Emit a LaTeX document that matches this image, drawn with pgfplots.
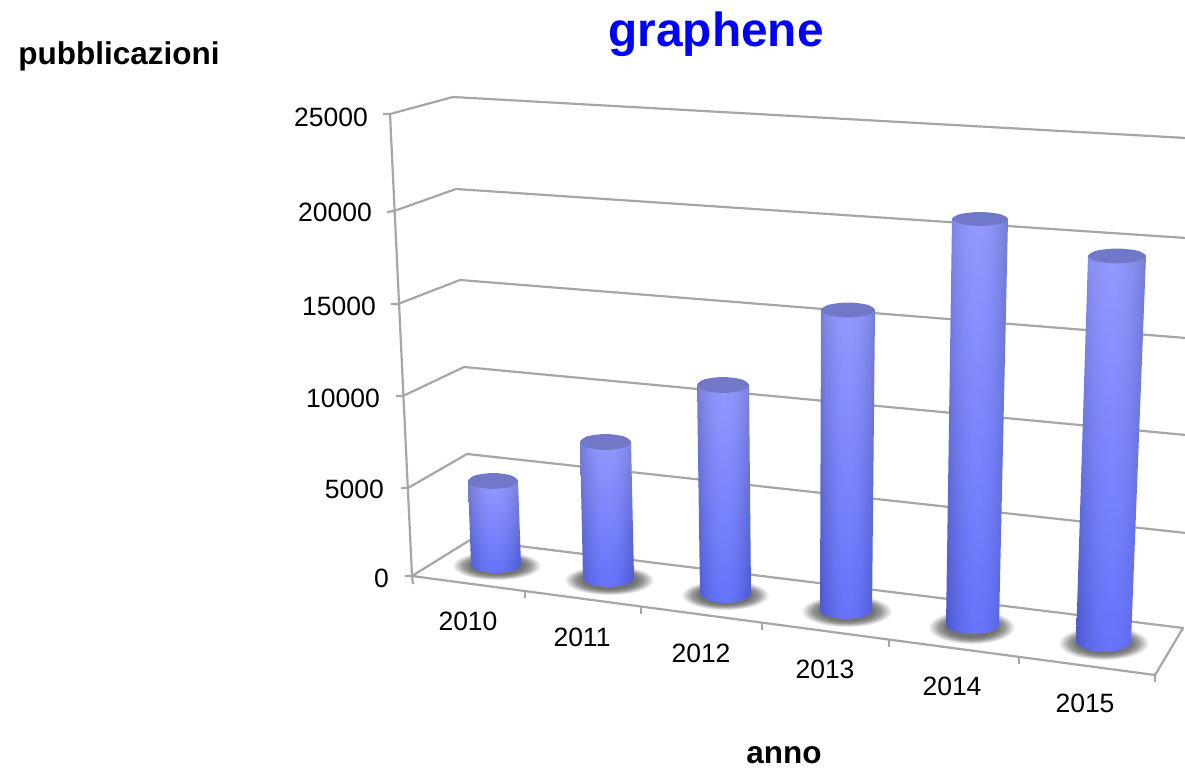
\documentclass[border=0pt]{standalone}
\usepackage{fontspec}
\setmainfont{Liberation Sans}
\usepackage{pgfplots}
\pgfplotsset{compat=1.18}

% Cylinder side: lighter towards the top, darker towards both edges.
% A path takes up the central 50bp square of the 100bp shading box.
\pgfdeclarefunctionalshading{cylbody}{\pgfpointorigin}{\pgfpoint{100bp}{100bp}}{}{
  25 sub 50 div exch 50 sub 25 div dup mul
  1 index 0.17 mul 0.40 add 1 index 0.11 mul sub
  2 index 0.15 mul 0.45 add 2 index 0.11 mul sub
  3 index 0.02 mul 0.98 add 3 index 0.18 mul sub
  5 -2 roll pop pop
}
% Soft floor shadow under each cylinder
\pgfdeclareradialshading{floorshadow}{\pgfpointorigin}{
  color(0bp)=(black!58);
  color(15bp)=(black!54);
  color(19bp)=(black!40);
  color(22bp)=(black!20);
  color(25bp)=(white);
  color(50bp)=(white)
}
\definecolor{gridgray}{HTML}{A6A6A6}
\definecolor{captop}{HTML}{7178C8}

\pgfplotsset{
  wire/.style={draw=gridgray, line width=2.2pt, no markers, forget plot, line join=round},
  shadow/.style={draw=none, shading=floorshadow, forget plot},
  side/.style={draw=none, shading=cylbody, forget plot},
  cap/.style={draw=none, fill=captop, smooth cycle, forget plot},
}
\newcommand{\numfont}{\fontsize{26.5}{30}\selectfont}
\newcommand{\labfont}{\fontsize{31.5}{36}\selectfont\bfseries}

\begin{document}
\begin{tikzpicture}
\begin{axis}[
  scale only axis, width=1185pt, height=770pt,
  xmin=0, xmax=1185, ymin=0, ymax=770, y dir=reverse,
  hide axis, no markers,
]
% page background
\addplot[draw=none, fill=white, forget plot] coordinates {(0,0)(1185,0)(1185,770)(0,770)} -- cycle;

% floor shadows
\addplot[shadow] coordinates {(452,551)(541,551)(541,580)(452,580)} -- cycle;
\addplot[shadow] coordinates {(564,565)(654,565)(654,595)(564,595)} -- cycle;
\addplot[shadow] coordinates {(681,580)(769,580)(769,610)(681,610)} -- cycle;
\addplot[shadow] coordinates {(801,595)(892,595)(892,627)(801,627)} -- cycle;
\addplot[shadow] coordinates {(928,610)(1015,610)(1015,644)(928,644)} -- cycle;
\addplot[shadow] coordinates {(1058,626)(1149,626)(1149,660)(1058,660)} -- cycle;

% walls and floor
\addplot[wire] coordinates {(383,114)(390,114)(453,97)(1186,138)};
\addplot[wire] coordinates {(387,212)(394,211)(456,189)(1186,238)};
\addplot[wire] coordinates {(391,304)(398,304)(460,280)(1186,338)};
\addplot[wire] coordinates {(396,396)(403,396)(464,367)(1186,435)};
\addplot[wire] coordinates {(401,488)(408,488)(467,454)(1186,533)};
\addplot[wire] coordinates {(405,576)(412,576)(470,540)(1183,628)(1155,675)(412,576)};
\addplot[wire] coordinates {(390,114)(412,576)(413,584)};
\addplot[wire] coordinates {(525,591)(525,598)};
\addplot[wire] coordinates {(641,607)(641,614)};
\addplot[wire] coordinates {(762,623)(762,630)};
\addplot[wire] coordinates {(889,640)(889,647)};
\addplot[wire] coordinates {(1019,657)(1019,664)};
\addplot[wire] coordinates {(1155,675)(1155,682)};

% cylinders, 2010 to 2015
\addplot[side] coordinates {(468,481)(518,481)(521,565)(519.1,568.1)(513.7,570.7)(505.6,572.4)(496,573)(486.4,572.4)(478.3,570.7)(472.9,568.1)(471,565)} -- cycle;
\addplot[cap] coordinates {(518,481)(510.7,486.7)(493,489)(475.3,486.7)(468,481)(475.3,475.3)(493,473)(510.7,475.3)};

\addplot[side] coordinates {(580,442)(631,442)(634,578)(632.1,581.4)(626.5,584.4)(618.3,586.3)(608.5,587)(598.7,586.3)(590.5,584.4)(584.9,581.4)(583,578)} -- cycle;
\addplot[cap] coordinates {(631,442)(623.5,447.7)(605.5,450)(587.5,447.7)(580,442)(587.5,436.3)(605.5,434)(623.5,436.3)};

\addplot[side] coordinates {(697,385)(749,385)(751,593)(749.1,596.8)(743.5,600.1)(735.3,602.2)(725.5,603)(715.7,602.2)(707.5,600.1)(701.9,596.8)(700,593)} -- cycle;
\addplot[cap] coordinates {(749,385)(741.4,390.7)(723,393)(704.6,390.7)(697,385)(704.6,379.3)(723,377)(741.4,379.3)};

\addplot[side] coordinates {(821,310)(875,310)(872,610)(870,613.4)(864.4,616.4)(856,618.3)(846,619)(836,618.3)(827.6,616.4)(822,613.4)(820,610)} -- cycle;
\addplot[cap] coordinates {(875,310)(867.1,315.3)(848,317.5)(828.9,315.3)(821,310)(828.9,304.7)(848,302.5)(867.1,304.7)};

\addplot[side] coordinates {(952,219)(1008,219)(999,625)(997,628.4)(991.2,631.4)(982.6,633.3)(972.5,634)(962.4,633.3)(953.8,631.4)(948,628.4)(946,625)} -- cycle;
\addplot[cap] coordinates {(1008,219)(999.8,223.9)(980,226)(960.2,223.9)(952,219)(960.2,214.1)(980,212)(999.8,214.1)};

\addplot[side] coordinates {(1088,256)(1146,256)(1131,641)(1128.9,645.2)(1122.9,648.8)(1114,651.2)(1103.5,652)(1093,651.2)(1084.1,648.8)(1078.1,645.2)(1076,641)} -- cycle;
\addplot[cap] coordinates {(1146,256)(1137.5,261.3)(1117,263.5)(1096.5,261.3)(1088,256)(1096.5,250.7)(1117,248.5)(1137.5,250.7)};

% value labels along the leading edge
\node[anchor=east, font=\numfont, inner sep=0pt] at (axis cs:368,117) {25000};
\node[anchor=east, font=\numfont, inner sep=0pt] at (axis cs:372,212) {20000};
\node[anchor=east, font=\numfont, inner sep=0pt] at (axis cs:376,306) {15000};
\node[anchor=east, font=\numfont, inner sep=0pt] at (axis cs:380,398) {10000};
\node[anchor=east, font=\numfont, inner sep=0pt] at (axis cs:384,489) {5000};
\node[anchor=east, font=\numfont, inner sep=0pt] at (axis cs:389,578) {0};

% year labels
\node[font=\numfont, inner sep=0pt] at (axis cs:468,621) {2010};
\node[font=\numfont, inner sep=0pt] at (axis cs:582,637) {2011};
\node[font=\numfont, inner sep=0pt] at (axis cs:701,653) {2012};
\node[font=\numfont, inner sep=0pt] at (axis cs:825,669) {2013};
\node[font=\numfont, inner sep=0pt] at (axis cs:952,686) {2014};
\node[font=\numfont, inner sep=0pt] at (axis cs:1085,703) {2015};

% title and axis names
\node[font=\fontsize{47.8}{54}\selectfont\bfseries, text=blue, inner sep=0pt] at (axis cs:716,34) {graphene};
\node[font=\labfont, inner sep=0pt] at (axis cs:119,56) {pubblicazioni};
\node[font=\labfont, inner sep=0pt] at (axis cs:784,755) {anno};
\end{axis}
\end{tikzpicture}
\end{document}
